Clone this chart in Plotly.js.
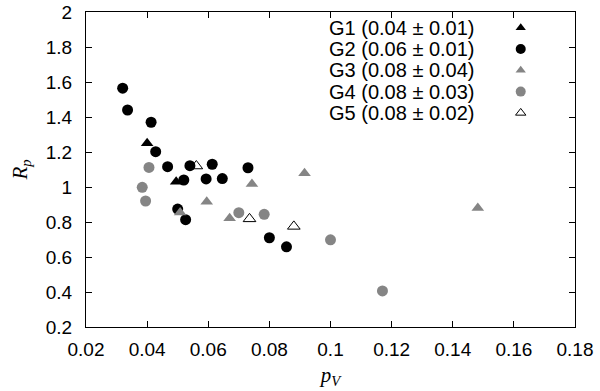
<!DOCTYPE html>
<html>
<head>
<meta charset="utf-8">
<script src="https://cdn.plot.ly/plotly-3.0.1.min.js"></script>
<style>
  html, body { margin: 0; padding: 0; background: #fff; }
  #chart { width: 600px; height: 391px; }
</style>
</head>
<body>
<div id="chart"></div>
<script>
// Group labels: mean albedo +/- sigma
const groupNames = [
    'G1 (0.04 ± 0.01)',
    'G2 (0.06 ± 0.01)',
    'G3 (0.08 ± 0.04)',
    'G4 (0.08 ± 0.03)',
    'G5 (0.08 ± 0.02)'
];

// p_V (x) and R_p (y) per group
const g1PV = [0.0400, 0.0495];
const g1Rp = [1.250, 1.030];

const g2PV = [0.0320, 0.0336, 0.0413, 0.0428, 0.0467, 0.0540, 0.0613, 0.0730,
              0.0593, 0.0646, 0.0520, 0.0500, 0.0526, 0.0800, 0.0856];
const g2Rp = [1.565, 1.440, 1.370, 1.202, 1.116, 1.122, 1.130, 1.110,
              1.046, 1.048, 1.040, 0.874, 0.813, 0.710, 0.658];

const g3PV = [0.0508, 0.0595, 0.0670, 0.0743, 0.0915, 0.1482];
const g3Rp = [0.855, 0.916, 0.822, 1.017, 1.078, 0.880];

const g4PV = [0.0384, 0.0395, 0.0406, 0.0700, 0.0783, 0.1000, 0.1170];
const g4Rp = [0.998, 0.920, 1.112, 0.853, 0.844, 0.698, 0.406];

const g5PV = [0.0561, 0.0735, 0.0880];
const g5Rp = [1.120, 0.818, 0.775];

const GRAY = '#858585';

// marker style for each group (same order as groupNames)
const groupMarkers = [
    { symbol: 'triangle-up', size: 11, color: '#000' },
    { symbol: 'circle', size: 11, color: '#000' },
    { symbol: 'triangle-up', size: 11, color: GRAY },
    { symbol: 'circle', size: 11, color: GRAY },
    { symbol: 'triangle-up-open', size: 11, color: '#000', line: { width: 1 } }
];

const groupData = [[g1PV, g1Rp], [g2PV, g2Rp], [g3PV, g3Rp], [g4PV, g4Rp], [g5PV, g5Rp]];

const traces = [];
groupData.forEach((d, i) => {
    traces.push({
        x: d[0],
        y: d[1],
        type: 'scatter',
        mode: 'markers',
        name: groupNames[i],
        showlegend: false,
        marker: groupMarkers[i],
        cliponaxis: false
    });
});

// gnuplot style key: text right aligned, symbol on the right
const keyRow = 21.3;       // px between key rows
const keyTop = 28 - 12.3;  // px from top of plot area to first row
const plotH = 391 - 12 - 64;
const keyTextX = 0.799;
const keySymX = 0.889;
const annotations = [];
groupNames.forEach((name, i) => {
    const m = groupMarkers[i];
    traces.push({
        x: [keySymX],
        y: [i],
        xaxis: 'x2',
        yaxis: 'y2',
        type: 'scatter',
        mode: 'markers',
        showlegend: false,
        hoverinfo: 'skip',
        marker: { ...m, size: m.symbol === 'circle' ? 10 : 9 }
    });
    annotations.push({
        text: name,
        xref: 'paper',
        yref: 'y2',
        x: keyTextX,
        y: i,
        xanchor: 'right',
        yanchor: 'middle',
        showarrow: false,
        font: { family: 'Liberation Sans, Arial, sans-serif', size: 20, color: '#000' }
    });
});

const tickFont = { family: 'Liberation Sans, Arial, sans-serif', size: 19, color: '#000' };

const layout = {
    width: 600,
    height: 391,
    margin: { l: 86, r: 25, t: 12, b: 64 },
    paper_bgcolor: '#fff',
    plot_bgcolor: '#fff',
    showlegend: false,
    xaxis: {
        range: [0.02, 0.18],
        dtick: 0.02,
        tick0: 0.02,
        showgrid: false,
        zeroline: false,
        showline: true,
        linecolor: '#000',
        linewidth: 1,
        mirror: 'ticks',
        ticks: 'inside',
        ticklen: 6,
        tickcolor: '#000',
        tickfont: tickFont,
        ticklabelstandoff: 5,
        title: {
            text: '<i>p</i><sub><i>V</i></sub>',
            font: { family: 'Liberation Serif, Times New Roman, serif', size: 21, color: '#000' },
            standoff: 8
        }
    },
    yaxis: {
        range: [0.2, 2],
        dtick: 0.2,
        tick0: 0.2,
        showgrid: false,
        zeroline: false,
        showline: true,
        linecolor: '#000',
        linewidth: 1,
        mirror: 'ticks',
        ticks: 'inside',
        ticklen: 6,
        tickcolor: '#000',
        tickfont: tickFont,
        ticklabelstandoff: 9,
        title: {
            text: '<i>R</i><sub><i>p</i></sub>',
            font: { family: 'Liberation Serif, Times New Roman, serif', size: 21, color: '#000' },
            standoff: 12
        }
    },
    xaxis2: {
        overlaying: 'x',
        range: [0, 1],
        visible: false,
        fixedrange: true
    },
    yaxis2: {
        overlaying: 'y',
        range: [(plotH - keyTop) / keyRow, -keyTop / keyRow],
        visible: false,
        fixedrange: true
    },
    annotations: annotations
};

Plotly.newPlot('chart', traces, layout, { displayModeBar: false, staticPlot: true });
</script>
</body>
</html>
